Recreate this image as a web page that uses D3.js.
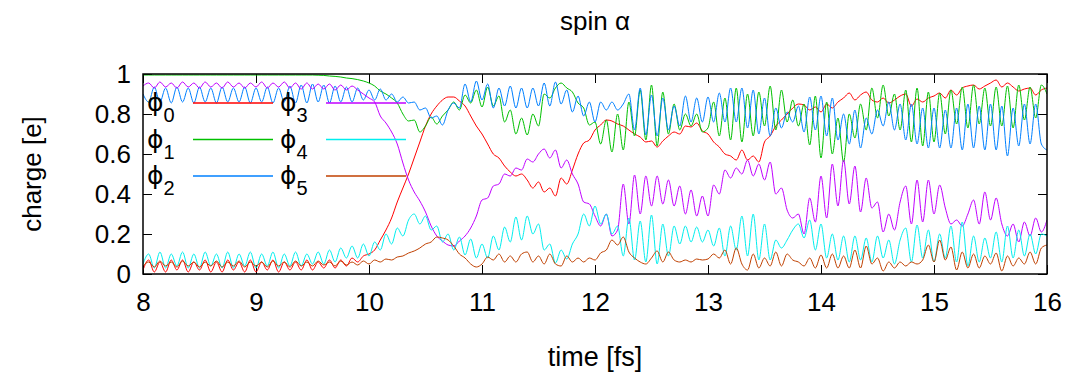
<!DOCTYPE html>
<html>
<head>
<meta charset="utf-8">
<script src="https://cdn.jsdelivr.net/npm/d3@7"></script>
<style>
  body { margin: 0; background: #fff; }
  text { font-family: "Liberation Sans", Arial, sans-serif; fill: #000; }
</style>
</head>
<body>
<div id="chart"></div>
<script>
// time grid of the run, fs (8 .. 16, 0.05 fs step)
var time = d3.range(161).map(function(i) { return 8 + i * 0.05; });

// orbital charges, one row per fs
var phi0 = [
  0.02,0.07,0.01,0.06,0.01,0.07,0.02,0.07,0.01,0.06,0.02,0.07,0.01,0.06,0.01,0.07,0.02,0.06,0.01,0.07,
  0.01,0.06,0.02,0.07,0.01,0.06,0.02,0.06,0.02,0.07,0.02,0.06,0.03,0.07,0.03,0.07,0.04,0.08,0.06,0.09,
  0.10,0.12,0.17,0.22,0.28,0.36,0.43,0.50,0.58,0.66,0.74,0.80,0.84,0.87,0.885,0.885,0.865,0.84,0.79,0.74,
  0.70,0.65,0.60,0.58,0.54,0.51,0.49,0.50,0.47,0.43,0.46,0.41,0.43,0.39,0.48,0.45,0.52,0.60,0.655,0.67,
  0.72,0.745,0.77,0.765,0.75,0.74,0.72,0.70,0.685,0.66,0.665,0.635,0.665,0.69,0.71,0.70,0.74,0.735,0.755,0.715,
  0.70,0.66,0.635,0.60,0.59,0.57,0.62,0.57,0.59,0.56,0.66,0.69,0.74,0.77,0.80,0.83,0.85,0.845,0.82,0.835,
  0.81,0.85,0.83,0.86,0.88,0.905,0.87,0.895,0.91,0.87,0.86,0.88,0.855,0.87,0.89,0.90,0.84,0.875,0.86,0.88,
  0.89,0.905,0.88,0.92,0.895,0.93,0.94,0.945,0.925,0.94,0.955,0.97,0.935,0.955,0.935,0.915,0.925,0.93,0.895,0.92,
  0.93];

var phi1 = [
  0.995,0.995,0.995,0.995,0.995,0.995,0.995,0.995,0.995,0.995,0.995,0.995,0.995,0.995,0.995,0.995,0.995,0.995,0.995,0.995,
  0.995,0.995,0.995,0.995,0.995,0.995,0.995,0.995,0.995,0.995,0.995,0.994,0.993,0.99,0.988,0.985,0.98,0.977,0.972,0.965,
  0.955,0.94,0.915,0.90,0.88,0.855,0.80,0.765,0.77,0.71,0.74,0.785,0.75,0.79,0.82,0.86,0.82,0.895,0.855,0.92,
  0.835,0.935,0.84,0.89,0.76,0.82,0.70,0.78,0.695,0.80,0.74,0.90,0.88,0.93,0.955,0.93,0.91,0.855,0.83,0.745,
  0.76,0.65,0.77,0.61,0.80,0.62,0.86,0.69,0.92,0.67,0.945,0.64,0.91,0.70,0.85,0.72,0.80,0.74,0.80,0.71,
  0.73,0.86,0.69,0.88,0.67,0.93,0.66,0.90,0.69,0.91,0.74,0.94,0.72,0.92,0.76,0.87,0.74,0.85,0.645,0.89,
  0.58,0.86,0.60,0.78,0.56,0.80,0.68,0.85,0.72,0.93,0.78,0.945,0.79,0.90,0.72,0.92,0.66,0.93,0.64,0.91,
  0.66,0.905,0.70,0.92,0.75,0.935,0.73,0.945,0.75,0.93,0.74,0.935,0.74,0.94,0.73,0.945,0.77,0.935,0.78,0.945,
  0.90];

var phi2 = [
  0.90,0.86,0.935,0.86,0.93,0.855,0.935,0.86,0.93,0.855,0.935,0.86,0.93,0.855,0.935,0.86,0.93,0.86,0.935,0.855,
  0.93,0.86,0.935,0.855,0.93,0.86,0.94,0.855,0.945,0.855,0.95,0.86,0.945,0.855,0.94,0.86,0.935,0.86,0.93,0.87,
  0.92,0.87,0.925,0.87,0.90,0.86,0.885,0.855,0.86,0.82,0.83,0.78,0.79,0.745,0.82,0.855,0.83,0.95,0.86,0.965,
  0.87,0.95,0.83,0.93,0.84,0.94,0.83,0.93,0.83,0.93,0.84,0.955,0.84,0.96,0.85,0.92,0.81,0.89,0.79,0.86,
  0.76,0.86,0.82,0.86,0.82,0.85,0.90,0.72,0.93,0.695,0.895,0.69,0.88,0.72,0.84,0.74,0.89,0.76,0.88,0.76,
  0.885,0.76,0.905,0.76,0.93,0.76,0.93,0.73,0.92,0.70,0.88,0.69,0.83,0.73,0.81,0.76,0.84,0.71,0.885,0.72,
  0.89,0.69,0.88,0.67,0.80,0.65,0.82,0.63,0.78,0.70,0.82,0.74,0.86,0.72,0.85,0.67,0.85,0.65,0.83,0.63,
  0.83,0.63,0.82,0.63,0.83,0.62,0.85,0.63,0.84,0.62,0.85,0.62,0.84,0.59,0.83,0.64,0.85,0.65,0.85,0.65,
  0.62];

var phi3 = [
  0.94,0.955,0.93,0.96,0.935,0.955,0.93,0.96,0.935,0.955,0.93,0.96,0.935,0.955,0.93,0.96,0.935,0.955,0.93,0.955,
  0.935,0.96,0.93,0.955,0.935,0.96,0.93,0.955,0.925,0.955,0.925,0.95,0.925,0.95,0.92,0.945,0.92,0.94,0.92,0.90,
  0.88,0.86,0.79,0.755,0.71,0.65,0.555,0.47,0.41,0.365,0.31,0.24,0.19,0.165,0.145,0.14,0.165,0.19,0.23,0.29,
  0.37,0.38,0.44,0.45,0.50,0.49,0.53,0.52,0.575,0.56,0.60,0.625,0.58,0.62,0.53,0.57,0.50,0.45,0.36,0.35,
  0.29,0.24,0.30,0.19,0.22,0.45,0.25,0.495,0.30,0.49,0.34,0.49,0.35,0.47,0.34,0.44,0.30,0.42,0.29,0.39,
  0.29,0.445,0.40,0.52,0.48,0.53,0.50,0.57,0.49,0.55,0.47,0.56,0.40,0.43,0.32,0.28,0.30,0.20,0.38,0.26,
  0.49,0.28,0.55,0.34,0.57,0.35,0.54,0.31,0.48,0.33,0.36,0.21,0.30,0.22,0.36,0.44,0.25,0.47,0.26,0.47,
  0.30,0.445,0.33,0.25,0.27,0.24,0.30,0.37,0.25,0.41,0.27,0.38,0.25,0.19,0.25,0.16,0.26,0.19,0.28,0.21,
  0.27];

var phi4 = [
  0.05,0.10,0.03,0.11,0.03,0.10,0.04,0.11,0.03,0.10,0.03,0.11,0.04,0.10,0.03,0.11,0.03,0.10,0.04,0.11,
  0.03,0.10,0.04,0.11,0.03,0.10,0.04,0.11,0.04,0.10,0.05,0.11,0.05,0.12,0.06,0.13,0.08,0.14,0.08,0.15,
  0.09,0.16,0.12,0.20,0.15,0.23,0.19,0.27,0.30,0.25,0.29,0.22,0.24,0.16,0.20,0.12,0.185,0.095,0.175,0.08,
  0.15,0.08,0.19,0.12,0.235,0.16,0.285,0.17,0.29,0.20,0.25,0.12,0.15,0.055,0.12,0.075,0.15,0.20,0.30,0.24,
  0.34,0.25,0.30,0.20,0.24,0.09,0.28,0.07,0.265,0.06,0.295,0.05,0.25,0.09,0.24,0.15,0.24,0.16,0.235,0.16,
  0.22,0.14,0.23,0.09,0.24,0.12,0.29,0.09,0.30,0.07,0.25,0.07,0.17,0.13,0.17,0.22,0.25,0.18,0.27,0.12,
  0.25,0.08,0.20,0.07,0.19,0.06,0.19,0.07,0.18,0.06,0.19,0.08,0.17,0.05,0.17,0.23,0.06,0.245,0.08,0.22,
  0.06,0.20,0.08,0.24,0.06,0.26,0.04,0.19,0.06,0.18,0.08,0.21,0.06,0.24,0.08,0.22,0.09,0.20,0.10,0.20,
  0.19];

var phi5 = [
  0.04,0.06,0.035,0.065,0.04,0.06,0.035,0.065,0.04,0.06,0.035,0.06,0.04,0.065,0.035,0.06,0.04,0.065,0.035,0.06,
  0.04,0.06,0.035,0.065,0.04,0.06,0.035,0.065,0.04,0.06,0.04,0.065,0.045,0.06,0.04,0.065,0.045,0.06,0.045,0.065,
  0.05,0.07,0.06,0.075,0.07,0.085,0.09,0.105,0.115,0.13,0.15,0.16,0.185,0.18,0.17,0.14,0.10,0.08,0.05,0.035,
  0.05,0.085,0.07,0.10,0.06,0.09,0.06,0.10,0.11,0.06,0.09,0.05,0.10,0.05,0.04,0.09,0.06,0.08,0.06,0.08,
  0.07,0.105,0.12,0.17,0.145,0.185,0.11,0.08,0.06,0.05,0.08,0.115,0.06,0.11,0.07,0.06,0.07,0.06,0.075,0.07,
  0.075,0.10,0.08,0.12,0.05,0.13,0.05,0.02,0.10,0.03,0.08,0.04,0.11,0.04,0.10,0.07,0.06,0.04,0.08,0.03,
  0.095,0.03,0.10,0.03,0.09,0.03,0.12,0.03,0.14,0.05,0.08,0.015,0.06,0.03,0.06,0.04,0.06,0.05,0.07,0.145,
  0.06,0.17,0.07,0.135,0.02,0.11,0.03,0.10,0.03,0.09,0.05,0.105,0.015,0.09,0.04,0.08,0.05,0.11,0.05,0.13,
  0.145];

var seriesNames = ["0", "1", "2", "3", "4", "5"];
var seriesValues = [phi0, phi1, phi2, phi3, phi4, phi5];
var colors = ["#ff0000", "#00c000", "#0080ff", "#c000ff", "#00eeee", "#c04000"];

var xTicks = [8, 9, 10, 11, 12, 13, 14, 15, 16];
var yTicks = [0, 0.2, 0.4, 0.6, 0.8, 1];

// container
var svgWidth = 1078;
var svgHeight = 382;
var margin = { top: 74, right: 31, bottom: 108, left: 143 };
var width = svgWidth - margin.left - margin.right;
var height = svgHeight - margin.top - margin.bottom;

var svg = d3.select("#chart").append("svg")
  .attr("width", svgWidth)
  .attr("height", svgHeight);

var chartGroup = svg.append("g")
  .attr("transform", `translate(${margin.left}, ${margin.top})`);

var x = d3.scaleLinear().domain([8, 16]).range([0, width]);
var y = d3.scaleLinear().domain([0, 1]).range([height, 0]);

// axes, ticks pointing inward, mirrored on top/right
function styleAxis(g) {
  g.select(".domain").remove();
  g.selectAll("line").attr("stroke", "#000").attr("stroke-width", 1);
  g.selectAll("text").attr("font-size", "26px").attr("fill", "#000")
    .attr("font-family", "Liberation Sans, Arial, sans-serif");
}

chartGroup.append("g")
  .attr("transform", `translate(0, ${height})`)
  .call(d3.axisBottom(x).tickValues(xTicks).tickSizeInner(-9).tickSizeOuter(0).tickPadding(19)
    .tickFormat(d3.format("d")))
  .call(styleAxis);

chartGroup.append("g")
  .call(d3.axisTop(x).tickValues(xTicks).tickSizeInner(-9).tickSizeOuter(0).tickFormat(""))
  .call(styleAxis);

chartGroup.append("g")
  .call(d3.axisLeft(y).tickValues(yTicks).tickSizeInner(-9).tickSizeOuter(0).tickPadding(12)
    .tickFormat(function(d) { return d === 0 ? "0" : d === 1 ? "1" : d3.format(".1f")(d); }))
  .call(styleAxis);

chartGroup.append("g")
  .attr("transform", `translate(${width}, 0)`)
  .call(d3.axisRight(y).tickValues(yTicks).tickSizeInner(-9).tickSizeOuter(0).tickFormat(""))
  .call(styleAxis);

// clip
chartGroup.append("clipPath").attr("id", "plotClip")
  .append("rect").attr("width", width).attr("height", height);

var line = d3.line()
  .x(function(d, i) { return x(time[i]); })
  .y(function(d) { return y(d); })
  .curve(d3.curveMonotoneX);

var linesGroup = chartGroup.append("g").attr("clip-path", "url(#plotClip)");
seriesValues.forEach(function(vals, k) {
  linesGroup.append("path")
    .datum(vals)
    .attr("fill", "none")
    .attr("stroke", colors[k])
    .attr("stroke-width", 1)
    .attr("d", line);
});

// key: 2 columns x 3 rows
var key = chartGroup.append("g");
seriesNames.forEach(function(name, k) {
  var col = Math.floor(k / 3), row = k % 3;
  var kx = 4 + col * 133;
  var ky = 29 + row * 36.5;
  var label = key.append("text")
    .attr("x", kx)
    .attr("y", ky + 8)
    .attr("font-size", "27px");
  label.append("tspan").attr("font-family", "DejaVu Sans, sans-serif").attr("font-size", "25px").text("\u03d5");
  label.append("tspan").attr("font-size", "20px").attr("dy", 11).text(name);
  key.append("line")
    .attr("x1", kx + 46).attr("x2", kx + 126)
    .attr("y1", ky).attr("y2", ky)
    .attr("stroke", colors[k])
    .attr("stroke-width", 1.5);
});

// frame
chartGroup.append("rect")
  .attr("width", width).attr("height", height)
  .attr("fill", "none").attr("stroke", "#000").attr("stroke-width", 1.5);

// labels
svg.append("text")
  .attr("x", margin.left + width / 2).attr("y", 30)
  .attr("text-anchor", "middle").attr("font-size", "26px")
  .text("spin \u03b1");

svg.append("text")
  .attr("x", margin.left + width / 2).attr("y", 366)
  .attr("text-anchor", "middle").attr("font-size", "27px")
  .text("time [fs]");

svg.append("text")
  .attr("transform", `translate(41, ${margin.top + height / 2}) rotate(-90)`)
  .attr("text-anchor", "middle").attr("font-size", "26px")
  .text("charge [e]");
</script>
</body>
</html>
